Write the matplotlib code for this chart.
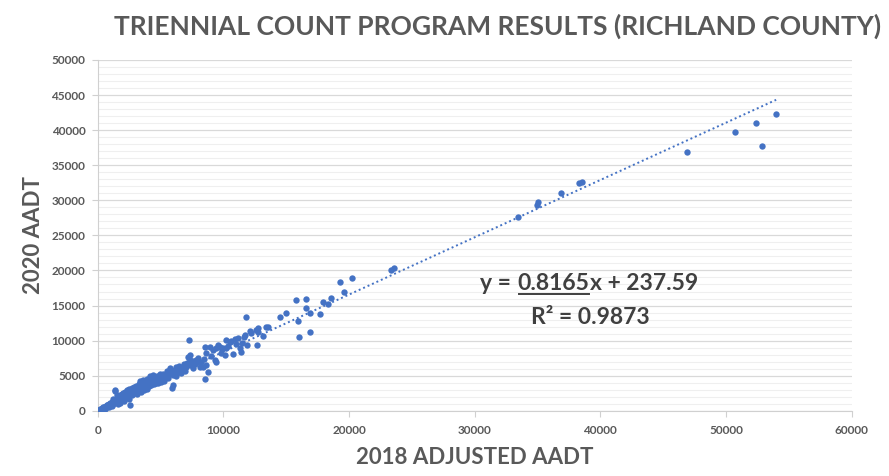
# Triennial count scatter, Richland County

import matplotlib
matplotlib.use("Agg")
import matplotlib.pyplot as plt
from matplotlib.ticker import MultipleLocator
import numpy as np

# 2018 adjusted AADT (x) vs 2020 AADT (y)
x_low = [120, 200, 250, 310, 380, 420, 480, 530, 600, 650, 700, 760, 800, 850, 900, 950,
         1000, 1050, 1100, 1150, 1200, 1250, 1300, 1350, 1400, 1350, 1420, 1480, 1520, 1560,
         1600, 1650, 1700, 1750, 1800, 1850, 1900, 1950, 2000, 1980, 2050, 2100, 1600, 1800,
         900, 1100, 600, 700, 1250, 1500]
y_low = [150, 320, 180, 420, 300, 520, 390, 610, 480, 720, 560, 880, 650, 760, 1020, 820,
         1150, 900, 1280, 1050, 1420, 980, 1550, 1200, 2990, 2750, 1680, 1350, 1850, 1500,
         2100, 1700, 1250, 1950, 2250, 1600, 2400, 1800, 2050, 2600, 1450, 2300, 900, 1100,
         600, 700, 250, 850, 1700, 2300]

x_mid = [2150, 2200, 2250, 2300, 2350, 2400, 2450, 2500, 2550, 2600, 2600, 2650, 2700, 2750,
         2800, 2850, 2900, 2950, 3000, 3050, 3100, 3150, 3200, 3250, 3300, 3350, 3400, 3450,
         3500, 3550, 3600, 3650, 3700, 3750, 3800, 3850, 3900, 3950, 4000, 4050, 4100, 4150,
         4200, 4250, 4300, 4350, 4400, 4450, 4500, 4550, 4600, 4650, 4700, 4750, 4800, 4850,
         4900, 4950, 5000, 4140]
y_mid = [2700, 1900, 2450, 2900, 2150, 2600, 3150, 1700, 2800, 850, 2400, 3000, 3300, 2200,
         2700, 3450, 2500, 3100, 2800, 3600, 2350, 3300, 2900, 3800, 3100, 4300, 2650, 3500,
         3200, 4000, 4420, 3000, 3700, 4150, 3350, 3900, 4500, 3100, 3800, 4300, 3500, 4700,
         4000, 3650, 4450, 3900, 5130, 4200, 3750, 4600, 4100, 3950, 4900, 4350, 4000, 4700,
         4450, 5200, 4100, 4890]

x_upmid = [5100, 5200, 5300, 5400, 5500, 5550, 5650, 5730, 5860, 5940, 5990, 6000, 6100, 6200,
           6250, 6350, 6450, 6500, 6600, 6700, 6800, 6850, 6950, 7050, 7100, 7210, 7240, 7320,
           7320, 7350, 7450, 7550, 7600, 7700, 7800, 7900, 8000, 8110, 8200, 8380, 8450, 8510,
           8510, 8650, 8650, 8780, 8910]
y_upmid = [4600, 5300, 4300, 5000, 5600, 4700, 5300, 6080, 5840, 3180, 3700, 5100, 5700, 6200,
           5000, 5500, 6000, 6400, 5400, 5900, 6300, 6700, 5700, 6200, 6800, 7730, 10070, 7260,
           7980, 6500, 6900, 6100, 7100, 6600, 7300, 6900, 7500, 6310, 7000, 6310, 7400, 4510,
           9160, 6550, 8220, 5510, 9160]

x_upper = [9000, 9170, 9310, 9440, 9440, 9570, 9700, 9800, 9900, 10000, 10100, 10240, 10400,
           10500, 10640, 10760, 10900, 11000, 11160, 11300, 11380, 11500, 11610, 11720, 11770,
           11910, 12150, 12230, 12650, 12750, 12780, 13150, 13370, 13550, 10240, 12630]
y_upper = [7800, 8690, 7260, 7020, 8930, 9400, 9160, 8300, 8800, 9000, 7980, 8930, 9300,
           9870, 9970, 8120, 10210, 9500, 10350, 8930, 8450, 9700, 10500, 10870, 13300,
           9400, 11350, 11070, 9360, 11250, 11870, 10680, 11920, 12000, 10110, 11540]

x_high = [14480, 15010, 15800, 15970, 16010, 16550, 16550, 16870, 16870, 17660, 17950, 18320,
          18590, 19310, 19600, 20210, 23360, 23550,
          33470, 34950, 35060, 36860, 38290, 38560, 46910, 50700, 52370, 52850, 53990]
y_high = [13430, 14000, 15770, 12860, 10500, 15950, 14630, 13910, 11250, 13820, 15570, 15240,
          16140, 18330, 16950, 18900, 20090, 20330,
          27640, 29340, 29730, 31050, 32430, 32660, 36940, 39700, 41030, 37710, 42270]

x_vals = np.array(x_low + x_mid + x_upmid + x_upper + x_high)
y_vals = np.array(y_low + y_mid + y_upmid + y_upper + y_high)

# linear trend shown on the chart
slope = 0.8165
intercept = 237.59
r2 = 0.9873

blue = "#4472C4"
gray = "#595959"
font = "Lato"

fig = plt.figure(figsize=(8.89, 4.76), dpi=100)
ax = fig.add_axes([0.110, 0.137, 0.848, 0.737])

ax.scatter(x_vals, y_vals, s=21, color=blue, lw=0, zorder=3)

xt = np.array([0, x_vals.max()])
ax.plot(xt, slope * xt + intercept, color=blue, ls=(0, (1, 1.5)), lw=1.4, zorder=2)

ax.set_xlim(0, 60000)
ax.set_ylim(0, 50000)
ax.xaxis.set_major_locator(MultipleLocator(10000))
ax.yaxis.set_major_locator(MultipleLocator(5000))
ax.yaxis.set_minor_locator(MultipleLocator(1000))
ax.grid(axis="y", which="major", color="#d9d9d9", lw=0.9, zorder=0)
ax.grid(axis="y", which="minor", color="#efefef", lw=0.8, zorder=0)
ax.set_axisbelow(True)

for s in ["top", "right"]:
    ax.spines[s].set_visible(False)
for s in ["left", "bottom"]:
    ax.spines[s].set_color("#d0d0d0")
ax.tick_params(axis="both", which="major", length=4, color="#d0d0d0",
               labelcolor=gray, labelsize=8.5)
ax.tick_params(axis="y", which="minor", length=0)
for lab in ax.get_xticklabels() + ax.get_yticklabels():
    lab.set_fontfamily(font)
    lab.set_fontweight("bold")
ax.tick_params(axis="y", pad=5)
ax.tick_params(axis="x", pad=6)

ax.set_xlabel("2018 ADJUSTED AADT", fontsize=16, fontweight="bold", color=gray,
              family=font, labelpad=8)
ax.set_ylabel("2020 AADT", fontsize=16, fontweight="bold", color=gray,
              family=font, labelpad=5)

fig.text(0.56, 0.944, "TRIENNIAL COUNT PROGRAM RESULTS (RICHLAND COUNTY)",
         ha="center", va="center", fontsize=19, fontweight="bold", color=gray, family=font)

# trend equation with underlined slope
eq_kw = dict(fontsize=16.5, fontweight="bold", color="#404040", family=font,
             va="baseline", ha="left")
renderer = fig.canvas.get_renderer()
x0, yb = 480 / 889, 1 - 290 / 476
t1 = fig.text(x0, yb, "y =", **eq_kw)
w1 = t1.get_window_extent(renderer).width / fig.bbox.width + 0.0075
t2 = fig.text(x0 + w1, yb, f"{slope:.4f}", **eq_kw)
bb2 = t2.get_window_extent(renderer)
w2 = bb2.width / fig.bbox.width
fig.text(x0 + w1 + w2, yb, f"x + {intercept:.2f}", **eq_kw)
ul_y = yb - 4 / 476
fig.add_artist(plt.Line2D([bb2.x0 / fig.bbox.width + 0.002, bb2.x1 / fig.bbox.width - 0.001],
                          [ul_y, ul_y], transform=fig.transFigure, color="#404040", lw=1.4))
fig.text(590 / 889, 1 - 324 / 476, f"R² = {r2:.4f}", fontsize=16.5, fontweight="bold",
         color="#404040", family=font, va="baseline", ha="center")

fig.savefig("out.png", dpi=100)
